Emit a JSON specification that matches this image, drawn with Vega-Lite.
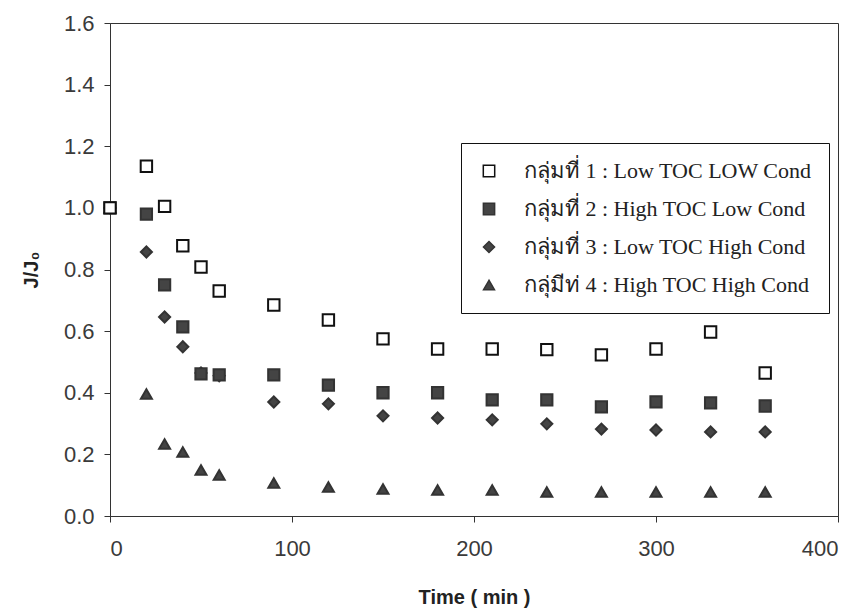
{
  "$schema": "https://vega.github.io/schema/vega-lite/v6.json",
  "width": 728,
  "height": 493,
  "autosize": "none",
  "padding": {"left": 110, "top": 23, "right": 21, "bottom": 100},
  "background": "white",
  "config": {
    "view": {"stroke": "#333", "strokeWidth": 1},
    "axis": {
      "grid": false,
      "domainColor": "#333",
      "tickColor": "#333",
      "tickSize": 6,
      "labelFont": "Liberation Sans",
      "labelFontSize": 22,
      "labelColor": "#3a3a3a",
      "titleFont": "Liberation Sans",
      "titleFontWeight": "bold",
      "titleFontSize": 20,
      "titleColor": "#222"
    }
  },
  "data": {
    "values": [
      {"t": 0, "g": "g1", "v": 1.0},
      {"t": 20, "g": "g1", "v": 1.135},
      {"t": 30, "g": "g1", "v": 1.005},
      {"t": 40, "g": "g1", "v": 0.877},
      {"t": 50, "g": "g1", "v": 0.808},
      {"t": 60, "g": "g1", "v": 0.73},
      {"t": 90, "g": "g1", "v": 0.685},
      {"t": 120, "g": "g1", "v": 0.636},
      {"t": 150, "g": "g1", "v": 0.575},
      {"t": 180, "g": "g1", "v": 0.542},
      {"t": 210, "g": "g1", "v": 0.542},
      {"t": 240, "g": "g1", "v": 0.54},
      {"t": 270, "g": "g1", "v": 0.523},
      {"t": 300, "g": "g1", "v": 0.542},
      {"t": 330, "g": "g1", "v": 0.597},
      {"t": 360, "g": "g1", "v": 0.464},

      {"t": 0, "g": "g2", "v": 1.0},
      {"t": 20, "g": "g2", "v": 0.98},
      {"t": 30, "g": "g2", "v": 0.75},
      {"t": 40, "g": "g2", "v": 0.614},
      {"t": 50, "g": "g2", "v": 0.461},
      {"t": 60, "g": "g2", "v": 0.458},
      {"t": 90, "g": "g2", "v": 0.458},
      {"t": 120, "g": "g2", "v": 0.425},
      {"t": 150, "g": "g2", "v": 0.4},
      {"t": 180, "g": "g2", "v": 0.4},
      {"t": 210, "g": "g2", "v": 0.377},
      {"t": 240, "g": "g2", "v": 0.377},
      {"t": 270, "g": "g2", "v": 0.354},
      {"t": 300, "g": "g2", "v": 0.37},
      {"t": 330, "g": "g2", "v": 0.367},
      {"t": 360, "g": "g2", "v": 0.357},

      {"t": 0, "g": "g3", "v": 1.0},
      {"t": 20, "g": "g3", "v": 0.857},
      {"t": 30, "g": "g3", "v": 0.646},
      {"t": 40, "g": "g3", "v": 0.549},
      {"t": 50, "g": "g3", "v": 0.464},
      {"t": 60, "g": "g3", "v": 0.455},
      {"t": 90, "g": "g3", "v": 0.37},
      {"t": 120, "g": "g3", "v": 0.364},
      {"t": 150, "g": "g3", "v": 0.325},
      {"t": 180, "g": "g3", "v": 0.318},
      {"t": 210, "g": "g3", "v": 0.312},
      {"t": 240, "g": "g3", "v": 0.299},
      {"t": 270, "g": "g3", "v": 0.282},
      {"t": 300, "g": "g3", "v": 0.279},
      {"t": 330, "g": "g3", "v": 0.273},
      {"t": 360, "g": "g3", "v": 0.273},

      {"t": 0, "g": "g4", "v": 1.0},
      {"t": 20, "g": "g4", "v": 0.396},
      {"t": 30, "g": "g4", "v": 0.234},
      {"t": 40, "g": "g4", "v": 0.208},
      {"t": 50, "g": "g4", "v": 0.149},
      {"t": 60, "g": "g4", "v": 0.133},
      {"t": 90, "g": "g4", "v": 0.107},
      {"t": 120, "g": "g4", "v": 0.094},
      {"t": 150, "g": "g4", "v": 0.088},
      {"t": 180, "g": "g4", "v": 0.084},
      {"t": 210, "g": "g4", "v": 0.084},
      {"t": 240, "g": "g4", "v": 0.078},
      {"t": 270, "g": "g4", "v": 0.078},
      {"t": 300, "g": "g4", "v": 0.078},
      {"t": 330, "g": "g4", "v": 0.078},
      {"t": 360, "g": "g4", "v": 0.078}
    ]
  },
  "mark": {"type": "point", "filled": false, "strokeWidth": 2, "opacity": 1},
  "encoding": {
    "x": {
      "field": "t",
      "type": "quantitative",
      "title": "Time ( min )",
      "scale": {"domain": [0, 400], "nice": false},
      "axis": {"values": [0, 100, 200, 300, 400], "labelPadding": 16, "titlePadding": 28}
    },
    "y": {
      "field": "v",
      "type": "quantitative",
      "title": "J/J₀",
      "scale": {"domain": [0, 1.6], "nice": false},
      "axis": {"values": [0, 0.2, 0.4, 0.6, 0.8, 1.0, 1.2, 1.4, 1.6], "format": ".1f", "labelPadding": 10, "titlePadding": 22}
    },
    "order": {"field": "g", "sort": "descending"},
    "shape": {
      "field": "g",
      "type": "nominal",
      "scale": {"domain": ["g1", "g2", "g3", "g4"], "range": ["square", "square", "diamond", "triangle-up"]},
      "legend": {
        "orient": "none",
        "legendX": 351,
        "legendY": 120,
        "title": null,
        "strokeColor": "#111",
        "padding": 17,
        "rowPadding": 16,
        "labelFont": "Liberation Serif",
        "labelFontSize": 22,
        "labelLimit": 500,
        "labelColor": "#222",
        "labelOffset": 24,
        "labelExpr": "{'g1': 'กลุ่มที่ 1 : Low TOC LOW Cond', 'g2': 'กลุ่มที่ 2 : High TOC Low Cond', 'g3': 'กลุ่มที่ 3 : Low TOC High Cond', 'g4': 'กลุ่มีท่ 4 : High TOC High Cond'}[datum.value]"
      }
    },
    "fill": {
      "field": "g",
      "type": "nominal",
      "scale": {"domain": ["g1", "g2", "g3", "g4"], "range": ["white", "#444", "#444", "#444"]}
    },
    "stroke": {
      "field": "g",
      "type": "nominal",
      "scale": {"domain": ["g1", "g2", "g3", "g4"], "range": ["#111", "#333", "#333", "#333"]}
    },
    "size": {
      "field": "g",
      "type": "nominal",
      "scale": {"domain": ["g1", "g2", "g3", "g4"], "range": [130, 120, 250, 270]}
    }
  }
}
